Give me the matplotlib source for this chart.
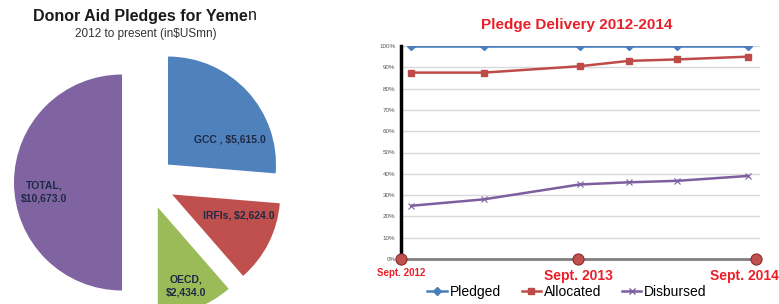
import numpy as np
import matplotlib.pyplot as plt
from matplotlib.lines import Line2D

# pie data (US$ mn)
pie_labels = ["GCC , $5,615.0", "IRFIs, $2,624.0", "OECD,\n$2,434.0", "TOTAL,\n$10,673.0"]
pie_values = [5615.0, 2624.0, 2434.0, 10673.0]
pie_colors = ["#4F81BD", "#C0504D", "#9BBB59", "#8064A2"]

# line data: months since Sept. 2012, share of pledges (%)
months = [0.7, 5.6, 12.1, 15.4, 18.7, 23.5]
pledged = [100, 100, 100, 100, 100, 100]
allocated = [87.5, 87.5, 90.5, 93.0, 93.7, 95.0]
disbursed = [25.0, 28.0, 35.0, 36.0, 36.7, 39.0]
milestones = [0, 12, 24]
milestone_labels = ["Sept. 2012", "Sept. 2013", "Sept. 2014"]
yticks = np.arange(0, 101, 10)

W, H = 779, 304
fig = plt.figure(figsize=(W / 100, H / 100), dpi=100)
plt.rcParams['font.family'] = ['Liberation Sans', 'DejaVu Sans']

# ---- pie (axes in pixel units, y up) ----
pax = fig.add_axes([0, 0, 340 / W, 1])
r = 108
cx, cy = 148.5, H - 182.5
wedges, _ = pax.pie(pie_values, colors=pie_colors, startangle=90, counterclock=False,
                    explode=[26.5] * 4, radius=r, center=(cx, cy))
pax.set_xlim(0, 340)
pax.set_ylim(0, H)
pax.set_aspect('equal')
pax.axis('off')

label_pos = [(230, 139), (239, 215), (186, 286), (44, 192)]
for lab, (x, y) in zip(pie_labels, label_pos):
    pax.text(x, H - y, lab, ha='center', va='center', fontsize=7.5,
             fontweight='bold', color='#1F2A44', linespacing=1.3)

fig.text(248 / W, 1 - 16 / H, "Donor Aid Pledges for Yeme", ha='right', va='center',
         fontsize=11.5, fontweight='bold', color='#1a1a1a')
fig.text(248 / W, 1 - 16 / H, "n", ha='left', va='center', fontsize=11.5, color='#1a1a1a')
fig.text(146 / W, 1 - 34 / H, "2012 to present (in$USmn)", ha='center', va='center',
         fontsize=8.5, color='#333333')

# ---- line chart ----
ax = fig.add_axes([401 / W, 1 - 259 / H, 359 / W, 213 / H])
ax.plot(months, pledged, color='#4A7EBB', lw=1.8, marker='D', ms=4.5, label='Pledged')
ax.plot(months, allocated, color='#BE4B48', lw=1.8, marker='s', ms=5, label='Allocated')
ax.plot(months, disbursed, color='#7D5FA0', lw=1.8, marker='x', ms=4, mew=0.8, label='Disbursed')
ax.set_xlim(0, 24.3)
ax.set_ylim(0, 100)
ax.set_yticks(yticks)
ax.set_yticklabels([f"{v}%" for v in yticks], fontsize=4.5, color='#555555')
ax.yaxis.grid(True, color='#d9d9d9', lw=1)
ax.set_axisbelow(True)
ax.tick_params(axis='y', length=0, pad=4)
ax.tick_params(axis='x', length=0)
for s in ['top', 'right']:
    ax.spines[s].set_visible(False)
ax.spines['left'].set_color('black')
ax.spines['left'].set_linewidth(2.5)
ax.spines['bottom'].set_color('#7f7f7f')
ax.spines['bottom'].set_linewidth(2)
ax.plot(milestones, [0] * len(milestones), 'o', ms=8, color='#C0504D', mec='#8C2E2C',
        mew=0.8, clip_on=False, zorder=5)
ax.set_xticks(milestones)
ax.set_xticklabels([])
ms_fs = [7, 10, 10]
ms_dy = [-10, -12, -12]
ms_ha = ['center', 'center', 'right']
ms_dx = [0, 0, 1.6]
for m, lab, fs, dy, ha, dx in zip(milestones, milestone_labels, ms_fs, ms_dy, ms_ha, ms_dx):
    ax.annotate(lab, (m + dx, 0), xytext=(0, dy), textcoords='offset points', ha=ha,
                va='center', fontsize=fs, fontweight='bold', color='#E8202A',
                annotation_clip=False)

ax.set_title("Pledge Delivery 2012-2014", color='#E8202A', fontsize=11,
             fontweight='bold', pad=12, x=(577 - 401) / 359)
handles = [Line2D([], [], color='#4A7EBB', lw=1.8, marker='D', ms=4),
           Line2D([], [], color='#BE4B48', lw=1.8, marker='s', ms=4.5),
           Line2D([], [], color='#7D5FA0', lw=1.8, marker='x', ms=4)]
fig.legend(handles, ['Pledged', 'Allocated', 'Disbursed'], loc='center',
           bbox_to_anchor=(567 / W, 1 - 292 / H), ncol=3, frameon=False, fontsize=10,
           handlelength=1.4, handletextpad=0.2, columnspacing=1.5)

fig.savefig('out.png', dpi=100)
